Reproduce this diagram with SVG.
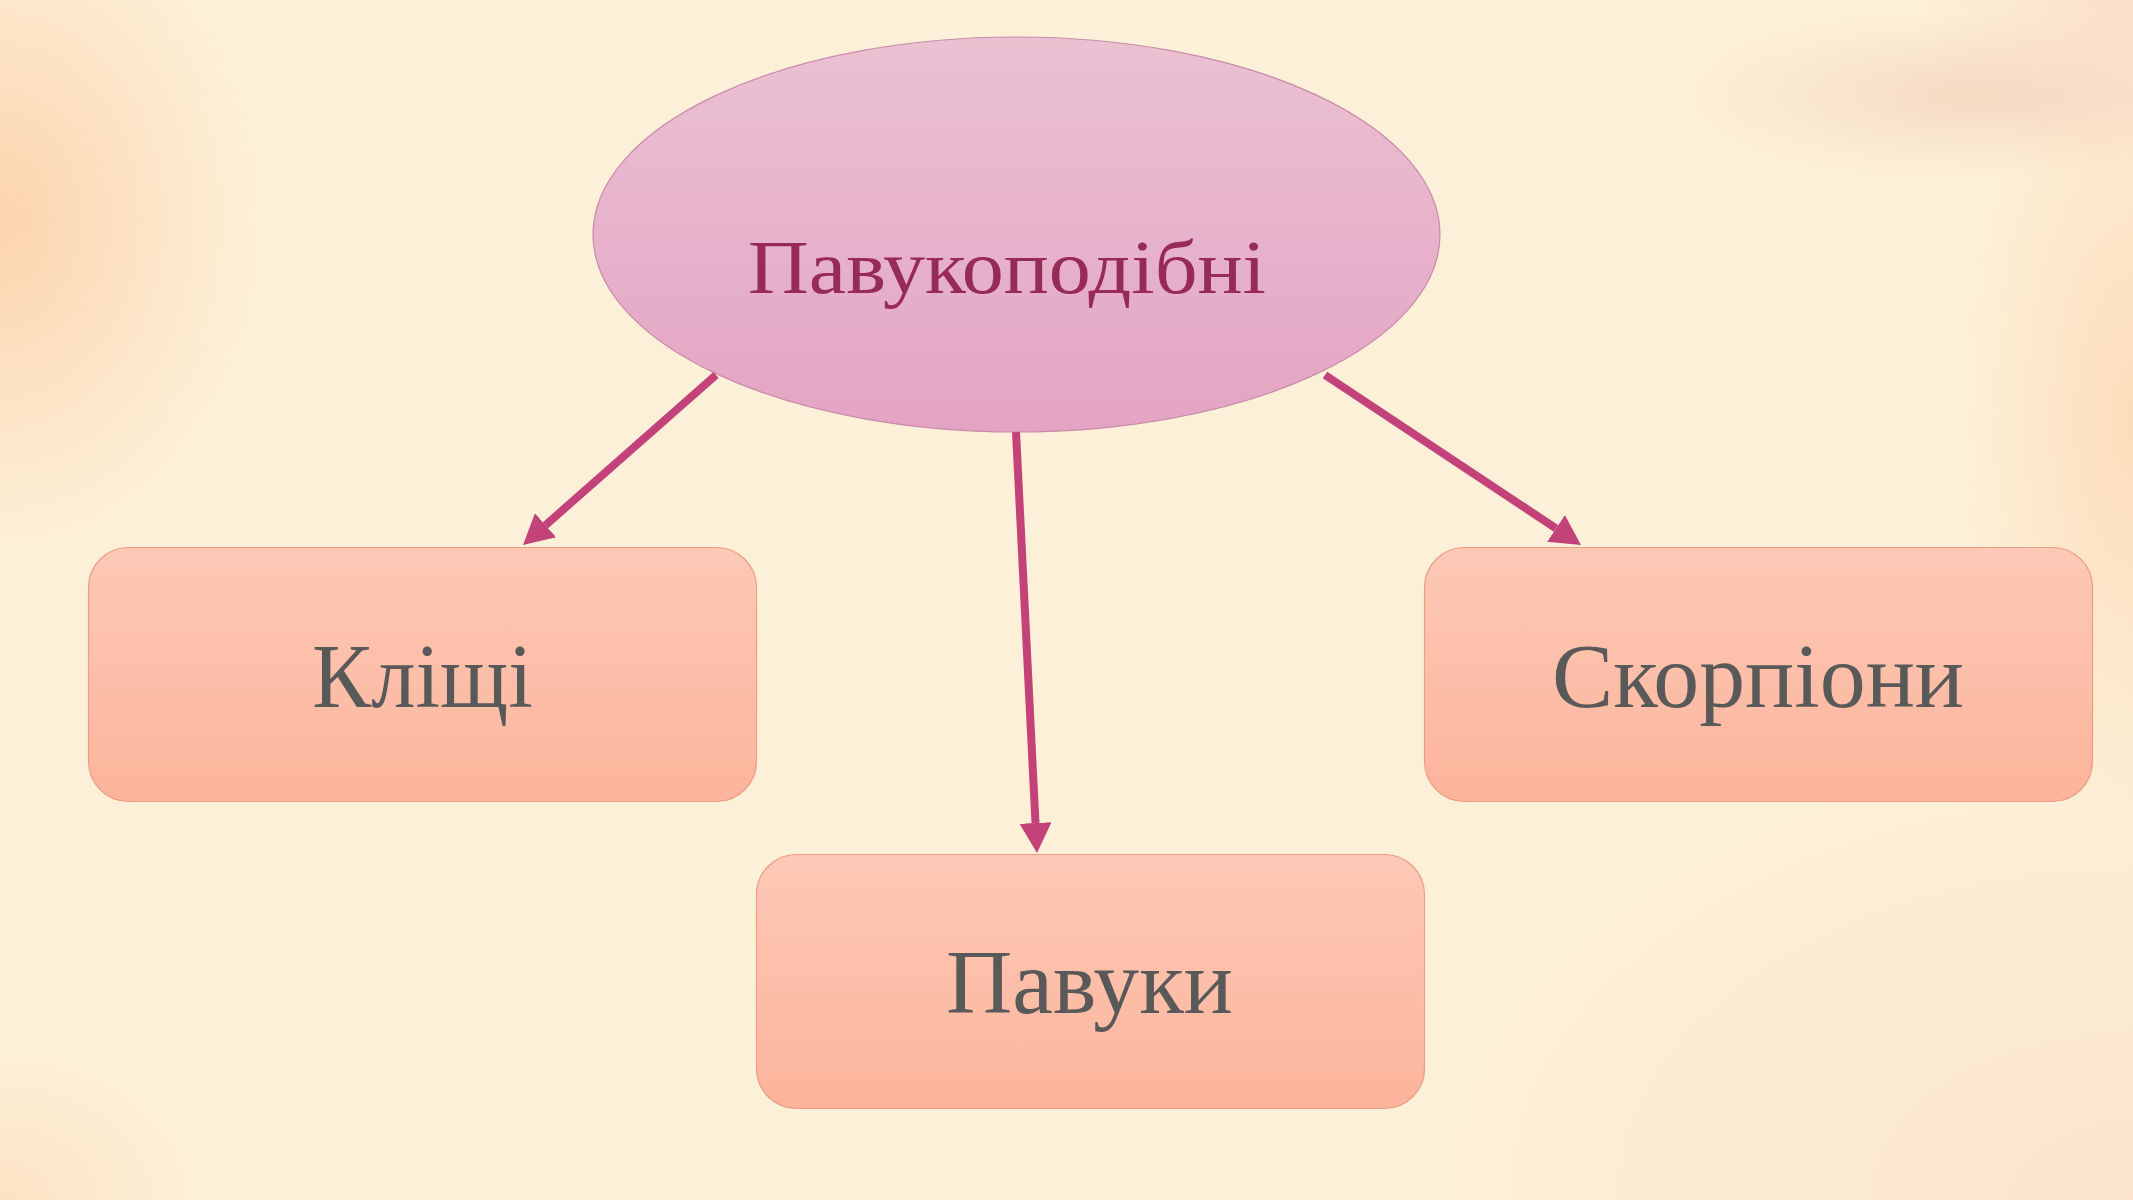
<svg xmlns="http://www.w3.org/2000/svg" width="2133" height="1200" viewBox="0 0 2133 1200">
<defs>
<style>
.box{fill:url(#boxGrad);stroke:#EE9C82;stroke-width:1.2}
.lbl{font-family:"Liberation Serif","DejaVu Serif",serif;font-size:91px;fill:#595959;text-anchor:middle}
.title{font-family:"Liberation Serif","DejaVu Serif",serif;font-size:76px;fill:#962A58;text-anchor:middle}
.conn{stroke:#C3427A;stroke-width:8;fill:none;marker-end:url(#head)}
</style>
<linearGradient id="boxGrad" x1="0" y1="0" x2="0" y2="1">
<stop offset="0" stop-color="#FDC9B6"/>
<stop offset="1" stop-color="#FCB49C"/>
</linearGradient>
<linearGradient id="ellGrad" x1="0" y1="0" x2="0" y2="1">
<stop offset="0" stop-color="#EBC1D2"/>
<stop offset="1" stop-color="#E3A4C3"/>
</linearGradient>
<radialGradient id="glowPeach">
<stop offset="0" stop-color="#FBCFA6" stop-opacity="0.85"/>
<stop offset="1" stop-color="#FBCFA6" stop-opacity="0"/>
</radialGradient>
<radialGradient id="glowStreak">
<stop offset="0" stop-color="#F3D2BA" stop-opacity="0.75"/>
<stop offset="1" stop-color="#F3D2BA" stop-opacity="0"/>
</radialGradient>
<radialGradient id="glowPink">
<stop offset="0" stop-color="#F9D8C8" stop-opacity="0.9"/>
<stop offset="1" stop-color="#F9D8C8" stop-opacity="0"/>
</radialGradient>
<marker id="head" viewBox="0 0 30 32" markerUnits="userSpaceOnUse" markerWidth="30" markerHeight="32" refX="0" refY="16" orient="auto">
<path d="M0,0 L30,16 L0,32 z" fill="#C3427A"/>
</marker>
</defs>
<g id="background">
<rect x="0" y="0" width="2133" height="1200" fill="#FDF0D8"/>
<ellipse cx="0" cy="220" rx="260" ry="330" fill="url(#glowPeach)"/>
<ellipse cx="0" cy="1200" rx="200" ry="150" fill="url(#glowPeach)" opacity="0.5"/>
<ellipse cx="2133" cy="420" rx="170" ry="420" fill="url(#glowPeach)" opacity="0.7"/>
<ellipse cx="1980" cy="95" rx="300" ry="85" fill="url(#glowStreak)"/>
<ellipse cx="2133" cy="0" rx="220" ry="160" fill="url(#glowPink)" opacity="0.8"/>
<ellipse cx="2133" cy="1200" rx="700" ry="450" fill="url(#glowPink)" opacity="0.6"/>
</g>
<g id="node-root">
<ellipse cx="1016.5" cy="234.5" rx="423.5" ry="197.5" fill="url(#ellGrad)" stroke="#C98BAA" stroke-width="1.2"/>
<text class="title" x="1007" y="293" textLength="518" lengthAdjust="spacingAndGlyphs">Павукоподібні</text>
</g>
<g id="node-klishchi">
<rect class="box" x="88.5" y="547.5" width="668" height="254" rx="40" ry="40"/>
<text class="lbl" x="422.5" y="707" textLength="221" lengthAdjust="spacingAndGlyphs">Кліщі</text>
</g>
<g id="node-pavuky">
<rect class="box" x="756.5" y="854.5" width="668" height="254" rx="40" ry="40"/>
<text class="lbl" x="1089.5" y="1013" textLength="287" lengthAdjust="spacingAndGlyphs">Павуки</text>
</g>
<g id="node-skorpiony">
<rect class="box" x="1424.5" y="547.5" width="668" height="254" rx="40" ry="40"/>
<text class="lbl" x="1758" y="707" textLength="412" lengthAdjust="spacingAndGlyphs">Скорпіони</text>
</g>
<g id="connectors">
<line class="conn" x1="716" y1="375" x2="545.5" y2="525.2"/>
<line class="conn" x1="1016" y1="432" x2="1035.5" y2="823"/>
<line class="conn" x1="1325" y1="375" x2="1556" y2="528.4"/>
</g>
</svg>
